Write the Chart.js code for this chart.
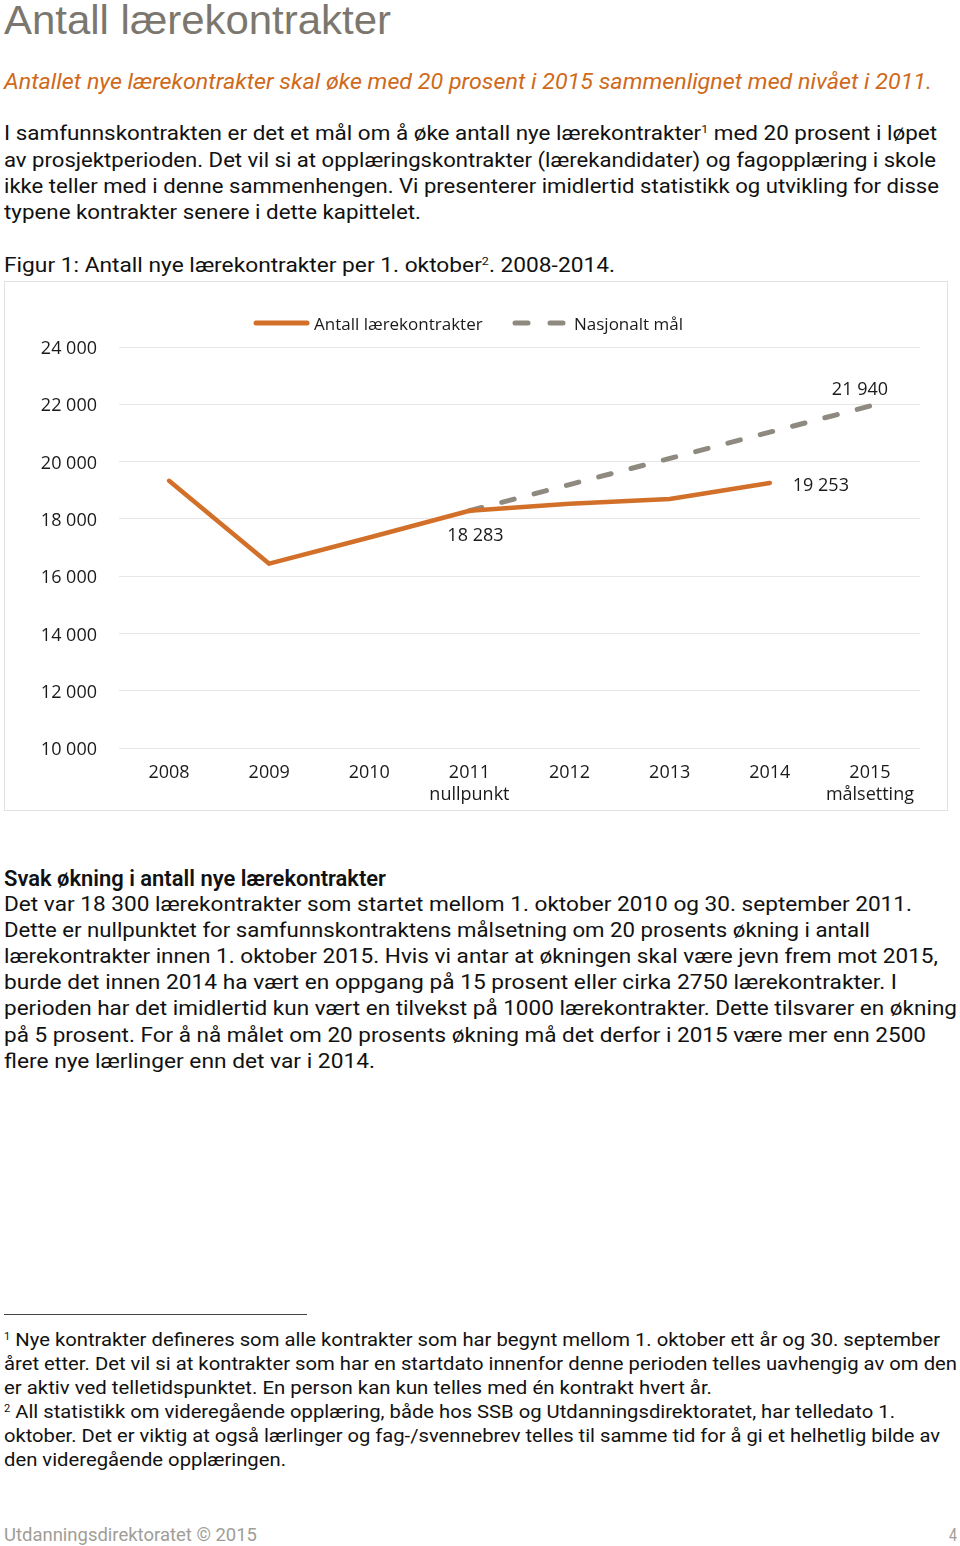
<!DOCTYPE html>
<html>
<head>
<meta charset="utf-8">
<script src="https://cdn.jsdelivr.net/npm/chart.js@4"></script>
<style>
  html, body { margin:0; padding:0; background:#fff; }
  body { width:960px; height:1546px; position:relative; overflow:hidden;
         font-family:"Liberation Sans Narrow","Roboto","Liberation Sans",sans-serif; color:#111; }
  .ln { position:absolute; left:4px; white-space:nowrap; line-height:1; }
  .ln span.t { display:inline-block; transform-origin:left center; }
  sup { font-size:0.55em; vertical-align:0.6em; line-height:0; }
  #chartBox { position:absolute; left:4px; top:281px; width:944px; height:530px; }
  #chartBorder { position:absolute; left:4px; top:281px; width:942px; height:528px; border:1px solid #e2e2e2; }
  #rule { position:absolute; left:4px; top:1314px; width:303px; height:1px; background:#444; }
</style>
</head>
<body>
<div id="chartBorder"></div>
<div id="chartBox"><canvas id="c" width="944" height="530"></canvas></div>
<div id="rule"></div>
<div id="texts"></div>
<script>
// ---- chart data ----
const years = ['2008', '2009', '2010', ['2011', 'nullpunkt'], '2012', '2013', '2014', ['2015', 'målsetting']];
const contracts = [19330, 16435, 17350, 18283, 18530, 18690, 19253, null];
const nationalGoal = [null, null, null, 18283, 19197, 20111, 21026, 21940];
const seriesNames = ['Antall lærekontrakter', 'Nasjonalt mål'];
const yMin = 10000, yMax = 24000, yStep = 2000;
const contractLabels = [null, null, null, '18 283', null, null, '19 253', null];
const goalLabels = [null, null, null, null, null, null, null, '21 940'];

// ---- page text ----
const lines = [
  {h:'Antall lærekontrakter', y:19.5, w:387, s:40, c:'#7b776e'},
  {h:'Antallet nye lærekontrakter skal øke med 20 prosent i 2015 sammenlignet med nivået i 2011.', y:81, w:928, s:22, c:'#cf6a1a', it:1},
  {h:'I samfunnskontrakten er det et mål om å øke antall nye lærekontrakter<sup>1</sup> med 20 prosent i løpet', y:133, w:933, s:21},
  {h:'av prosjektperioden. Det vil si at opplæringskontrakter (lærekandidater) og fagopplæring i skole', y:160, w:932, s:21},
  {h:'ikke teller med i denne sammenhengen. Vi presenterer imidlertid statistikk og utvikling for disse', y:186, w:935, s:21},
  {h:'typene kontrakter senere i dette kapittelet.', y:212, w:417, s:21},
  {h:'Figur 1: Antall nye lærekontrakter per 1. oktober<sup>2</sup>. 2008-2014.', y:265, w:611, s:21},
  {h:'Svak økning i antall nye lærekontrakter', y:878, w:382, s:22, b:1},
  {h:'Det var 18 300 lærekontrakter som startet mellom 1. oktober 2010 og 30. september 2011.', y:904, w:908, s:21},
  {h:'Dette er nullpunktet for samfunnskontraktens målsetning om 20 prosents økning i antall', y:930, w:866, s:21},
  {h:'lærekontrakter innen 1. oktober 2015. Hvis vi antar at økningen skal være jevn frem mot 2015,', y:956, w:934, s:21},
  {h:'burde det innen 2014 ha vært en oppgang på 15 prosent eller cirka 2750 lærekontrakter. I', y:982, w:893, s:21},
  {h:'perioden har det imidlertid kun vært en tilvekst på 1000 lærekontrakter. Dette tilsvarer en økning', y:1008, w:953, s:21},
  {h:'på 5 prosent. For å nå målet om 20 prosents økning må det derfor i 2015 være mer enn 2500', y:1035, w:922, s:21},
  {h:'flere nye lærlinger enn det var i 2014.', y:1061, w:371, s:21},
  {h:'<sup>1</sup> Nye kontrakter defineres som alle kontrakter som har begynt mellom 1. oktober ett år og 30. september', y:1338, w:936, s:19},
  {h:'året etter. Det vil si at kontrakter som har en startdato innenfor denne perioden telles uavhengig av om den', y:1362, w:953, s:19},
  {h:'er aktiv ved telletidspunktet. En person kan kun telles med én kontrakt hvert år.', y:1386, w:708, s:19},
  {h:'<sup>2</sup> All statistikk om videregående opplæring, både hos SSB og Utdanningsdirektoratet, har telledato 1.', y:1410, w:891, s:19},
  {h:'oktober. Det er viktig at også lærlinger og fag-/svennebrev telles til samme tid for å gi et helhetlig bilde av', y:1434, w:936, s:19},
  {h:'den videregående opplæringen.', y:1458, w:282, s:19},
  {h:'Utdanningsdirektoratet © 2015', y:1533, w:253, s:19, c:'#a19d96'},
  {h:'4', y:1533, w:8, s:19, c:'#a19d96', x:949}
];
const holder = document.getElementById('texts');
lines.forEach(L => {
  const d = document.createElement('div');
  d.className = 'ln';
  d.style.top = (L.y - L.s * 0.55 + 2) + 'px';
  if (L.x) d.style.left = L.x + 'px';
  d.style.fontSize = L.s + 'px';
  d.style.color = L.c || '#111';
  if (L.it) d.style.fontStyle = 'italic';
  if (L.b) d.style.fontWeight = '600';
  if (L.s === 40) d.style.fontFamily = '"Liberation Sans","Roboto",sans-serif';
  d.innerHTML = '<span class="t">' + L.h + '</span>';
  holder.appendChild(d);
  const sp = d.firstChild;
  const w = sp.getBoundingClientRect().width;
  if (w > 0) sp.style.transform = 'scaleX(' + (L.w / w) + ')';
});

// ---- chart ----
const ORANGE = '#d2702a';
const GREY = '#8f8a80';
const fmt = v => String(v).replace(/\B(?=(\d{3})+(?!\d))/g, ' ');
const FONT = '"Open Sans", sans-serif';

const labelPlugin = {
  id: 'valueLabels',
  afterDatasetsDraw(chart) {
    const ctx = chart.ctx;
    ctx.save();
    ctx.font = '18px ' + FONT;
    ctx.fillStyle = '#1a1a1a';
    ctx.textBaseline = 'middle';
    const m0 = chart.getDatasetMeta(0).data;
    const m1 = chart.getDatasetMeta(1).data;
    contractLabels.forEach((t, i) => {
      if (!t) return;
      const p = m0[i];
      if (i === 6) { ctx.textAlign = 'left'; ctx.fillText(t, p.x + 23, p.y + 3); }
      else { ctx.textAlign = 'center'; ctx.fillText(t, p.x + 6, p.y + 25); }
    });
    goalLabels.forEach((t, i) => {
      if (!t) return;
      const p = m1[i];
      ctx.textAlign = 'center';
      ctx.fillText(t, p.x - 10, p.y - 16);
    });
    ctx.restore();
  }
};
const legendPlugin = {
  id: 'customLegend',
  afterDraw(chart) {
    const ctx = chart.ctx;
    ctx.save();
    ctx.lineCap = 'round';
    ctx.lineWidth = 5;
    ctx.strokeStyle = ORANGE;
    ctx.beginPath(); ctx.moveTo(252, 42); ctx.lineTo(303, 42); ctx.stroke();
    ctx.strokeStyle = GREY;
    ctx.setLineDash([13, 22]);
    ctx.beginPath(); ctx.moveTo(511, 42); ctx.lineTo(561, 42); ctx.stroke();
    ctx.setLineDash([]);
    ctx.font = '17px ' + FONT;
    ctx.fillStyle = '#1a1a1a';
    ctx.textBaseline = 'middle';
    ctx.textAlign = 'left';
    ctx.fillText(seriesNames[0], 310, 44);
    ctx.fillText(seriesNames[1], 570, 44);
    ctx.restore();
  }
};

new Chart(document.getElementById('c'), {
  type: 'line',
  data: {
    labels: years,
    datasets: [
      { label: seriesNames[0], data: contracts, borderColor: ORANGE, borderWidth: 4.5,
        pointRadius: 0, tension: 0, borderCapStyle: 'round', borderJoinStyle: 'round', order: 0 },
      { label: seriesNames[1], data: nationalGoal, borderColor: GREY, borderWidth: 5,
        borderDash: [12.8, 20.6], borderCapStyle: 'round', pointRadius: 0, tension: 0, order: 1 }
    ]
  },
  options: {
    responsive: false,
    animation: false,
    spanGaps: false,
    layout: { padding: { top: 66, right: 28, left: 0, bottom: 0 } },
    plugins: { legend: { display: false }, tooltip: { enabled: false } },
    scales: {
      x: {
        offset: true,
        grid: { display: false, drawTicks: false },
        border: { display: false },
        ticks: { color: '#1a1a1a', font: { family: FONT, size: 18 }, padding: 14, maxRotation: 0, autoSkip: false },
        afterFit: s => { s.height = 63; }
      },
      y: {
        min: yMin, max: yMax,
        grid: { color: '#e6e6e6', lineWidth: 1, drawTicks: false },
        border: { display: false },
        ticks: { stepSize: yStep, color: '#1a1a1a', font: { family: FONT, size: 18 }, padding: 22, labelOffset: 2, callback: v => fmt(v) },
        afterFit: s => { s.width = 115; }
      }
    }
  },
  plugins: [labelPlugin, legendPlugin]
});
</script>
</body>
</html>
